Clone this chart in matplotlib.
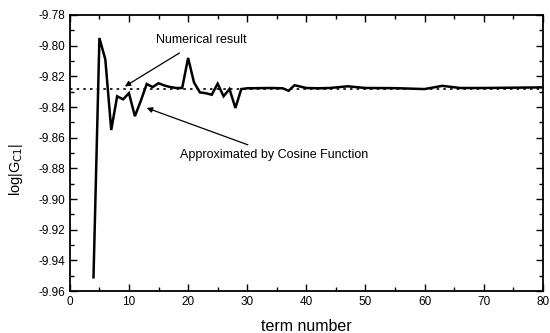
import matplotlib
matplotlib.use("Agg")
import matplotlib.pyplot as plt
from matplotlib.ticker import MultipleLocator

plt.rcParams["font.family"] = ["Liberation Sans", "DejaVu Sans"]

# approximated by cosine function (solid line)
terms = [4, 5, 6, 7, 8, 9, 10, 11, 12, 13, 14, 15, 16, 17, 18, 19, 20, 21, 22,
         23, 24, 25, 26, 27, 28, 29, 30, 32, 34, 36, 37, 38, 40, 42, 44, 47,
         50, 55, 60, 63, 66, 70, 75, 80]
log_gc1 = [-9.951, -9.795, -9.809, -9.855, -9.833, -9.835, -9.831, -9.846,
           -9.836, -9.825, -9.827, -9.8245, -9.826, -9.827, -9.8276, -9.8276,
           -9.808, -9.824, -9.8305, -9.831, -9.832, -9.8248, -9.833, -9.8283,
           -9.8406, -9.8283, -9.8278, -9.8277, -9.8276, -9.8278, -9.8294,
           -9.8258, -9.8276, -9.8278, -9.8276, -9.8265, -9.8276, -9.8277,
           -9.8283, -9.8262, -9.8276, -9.8276, -9.8274, -9.8272]

# numerical result (dotted line)
numerical = -9.8283

fig = plt.figure(figsize=(5.5, 3.33), dpi=100)
ax = fig.add_axes([0.127, 0.126, 0.86, 0.829])

ax.plot(terms, log_gc1, color="black", lw=1.8, solid_joinstyle="miter")
ax.axhline(numerical, color="black", lw=1.2, ls=(0, (1.5, 2.5)), zorder=1)

ax.set_xlim(0, 80)
ax.set_ylim(-9.96, -9.78)
ax.xaxis.set_major_locator(MultipleLocator(10))
ax.xaxis.set_minor_locator(MultipleLocator(5))
ax.yaxis.set_major_locator(MultipleLocator(0.02))
ax.yaxis.set_minor_locator(MultipleLocator(0.01))
ax.yaxis.set_major_formatter(matplotlib.ticker.FormatStrFormatter("%.2f"))
ax.tick_params(which="both", direction="in", top=True, right=True, labelsize=8.5, width=1)
ax.tick_params(which="major", length=5)
ax.tick_params(which="minor", length=3)
for s in ax.spines.values():
    s.set_linewidth(1.3)

ax.set_xlabel("term number", fontsize=11.5, labelpad=8)
ax.set_ylabel(r"log|G$_{\mathrm{C1}}$|", fontsize=10.5, labelpad=7)
ax.yaxis.set_label_coords(-0.095, 0.44)

ax.annotate("Numerical result", xy=(9.3, -9.8266), xytext=(14.5, -9.7962),
            fontsize=9, va="center", ha="left",
            arrowprops=dict(arrowstyle="-|>", color="black", lw=0.9,
                            shrinkA=6, shrinkB=0, mutation_scale=8))
ax.annotate("Approximated by Cosine Function", xy=(13.0, -9.8406),
            xytext=(18.7, -9.871), fontsize=9, va="center", ha="left",
            arrowprops=dict(arrowstyle="-|>", color="black", lw=0.9,
                            shrinkA=2, shrinkB=0, mutation_scale=8))

fig.savefig("out.png", dpi=100)
